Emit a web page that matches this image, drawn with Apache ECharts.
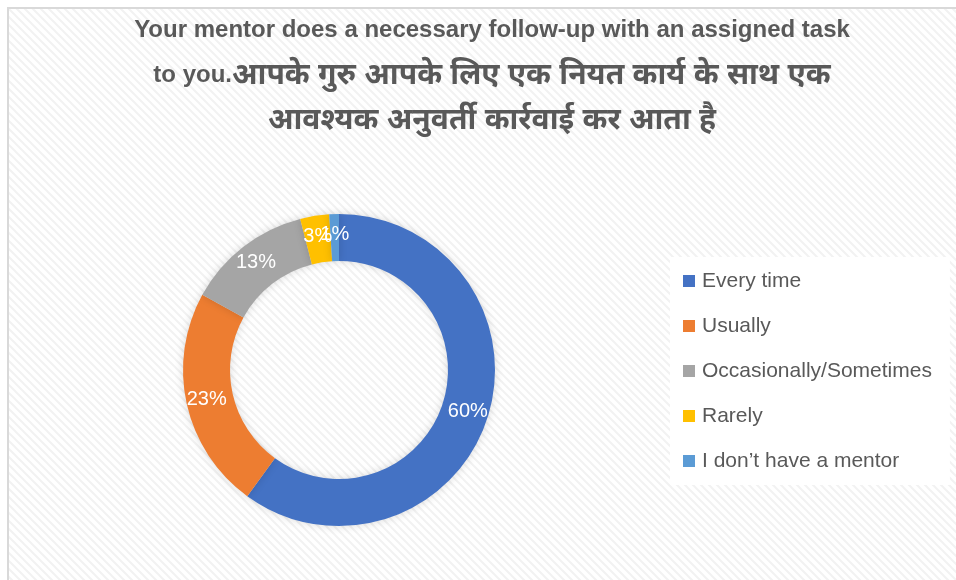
<!DOCTYPE html>
<html>
<head>
<meta charset="utf-8">
<script src="https://cdn.jsdelivr.net/npm/echarts@6/dist/echarts.min.js"></script>
<style>
  html, body { margin: 0; padding: 0; background: #fff; }
  #chart { width: 956px; height: 580px; }
</style>
</head>
<body>
<div id="chart"></div>
<script>
// title: latin and devanagari runs (devanagari drawn larger, as in the original)
const titleLines = [
  [['en', 'Your mentor does a necessary follow-up with an assigned task']],
  [['en', 'to you.'], ['hi', 'आपके गुरु आपके लिए एक नियत कार्य के साथ एक']],
  [['hi', 'आवश्यक अनुवर्ती कार्रवाई कर आता है']]
]
const categories = ['Every time', 'Usually', 'Occasionally/Sometimes', 'Rarely', 'I don’t have a mentor']
const values = [60, 23, 13, 3, 1]
const colors = ['#4472C4', '#ED7D31', '#A5A5A5', '#FFC000', '#5B9BD5']

// light diagonal stripe texture like the Excel chart area
function stripes () {
  const c = document.createElement('canvas')
  c.width = 8
  c.height = 8
  const ctx = c.getContext('2d')
  ctx.fillStyle = '#ffffff'
  ctx.fillRect(0, 0, 8, 8)
  ctx.strokeStyle = '#f2f2f2'
  ctx.lineWidth = 2
  ctx.beginPath()
  ctx.moveTo(-2, -2); ctx.lineTo(10, 10)
  ctx.moveTo(-6, 2); ctx.lineTo(6, 14)
  ctx.moveTo(2, -6); ctx.lineTo(14, 6)
  ctx.stroke()
  return c
}

const myChart = echarts.init(document.getElementById('chart'))
const font = '"Liberation Sans", "Noto Sans", sans-serif'

const option = {
  animation: false,
  backgroundColor: '#ffffff',
  color: colors,
  graphic: [
    {
      type: 'rect',
      z: -10,
      shape: { x: 8, y: 8, width: 960, height: 600 },
      style: { fill: { image: stripes(), repeat: 'repeat' }, stroke: '#d9d9d9', lineWidth: 2 }
    }
  ],
  title: {
    text: titleLines.map(line => line.map(([k, s]) => '{' + k + '|' + s + '}').join('')).join('\n'),
    left: 487,
    textAlign: 'center',
    top: 3,
    textStyle: {
      fontFamily: font,
      fontWeight: 'bold',
      color: '#595959',
      lineHeight: 45,
      rich: {
        en: { fontFamily: font, fontSize: 24, fontWeight: 'bold', color: '#595959', lineHeight: 45 },
        hi: { fontFamily: font, fontSize: 30, fontWeight: 'bold', color: '#595959', lineHeight: 45 }
      }
    }
  },
  legend: {
    orient: 'vertical',
    left: 670,
    top: 257,
    backgroundColor: '#ffffff',
    padding: [13, 18, 13, 13],
    itemWidth: 12,
    itemHeight: 12,
    itemGap: 23,
    icon: 'rect',
    data: categories,
    textStyle: {
      fontFamily: font,
      fontSize: 21,
      lineHeight: 22,
      color: '#595959',
      padding: [0, 0, 0, 2]
    }
  },
  series: [
    {
      type: 'pie',
      center: [339, 370],
      radius: [109, 156],
      startAngle: 90,
      clockwise: true,
      avoidLabelOverlap: false,
      minShowLabelAngle: 0,
      labelLayout: { hideOverlap: false },
      itemStyle: {
        shadowBlur: 8,
        shadowColor: 'rgba(0,0,0,0.15)'
      },
      label: {
        show: true,
        position: 'inside',
        color: '#ffffff',
        fontFamily: font,
        fontSize: 20,
        formatter: p => Math.round(p.percent) + '%'
      },
      labelLine: { show: false },
      data: categories.map((name, i) => ({ name, value: values[i] }))
    }
  ]
}
myChart.setOption(option)
</script>
</body>
</html>
